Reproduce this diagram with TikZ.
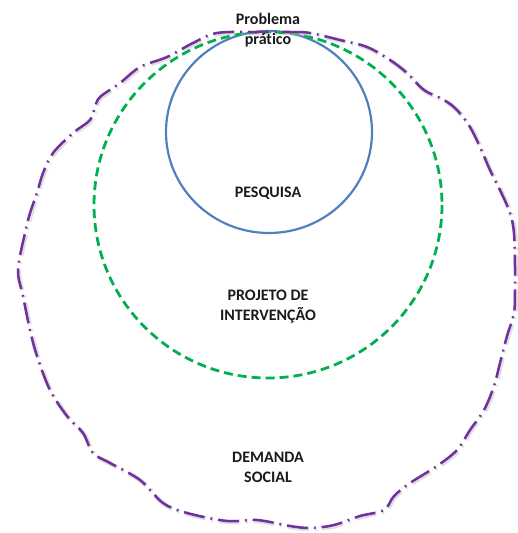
\documentclass[tikz,border=0pt]{standalone}
\usepackage{fontspec}
\setmainfont[Ligatures=NoCommon]{Carlito}
\definecolor{ablue}{HTML}{4F81BD}
\definecolor{agreen}{HTML}{00B050}
\definecolor{apurple}{HTML}{7030A0}
\definecolor{atext}{HTML}{1A1A1A}
\begin{document}
\begin{tikzpicture}[x=1pt,y=-1pt,
  lbl/.style={font=\fontsize{16}{19.5}\selectfont\bfseries, text=atext, align=center, inner sep=0pt},
  bluering/.style={draw=ablue, line width=2.2pt},
  greenring/.style={draw=agreen, line width=2.8pt, dash pattern=on 9pt off 5pt},
  purplering/.style={draw=apurple, line width=2.5pt, dash pattern=on 21pt off 6pt on 1.8pt off 6pt},
  purpleshadow/.style={draw=black!25, line width=4.5pt, opacity=0.5, dash pattern=on 21pt off 6pt on 1.8pt off 6pt}]
\useasboundingbox (0,0) rectangle (517,533);
% blue circle
\draw[bluering] (269,132) ellipse [x radius=103, y radius=101];
% green dashed ellipse
\draw[greenring] (268,205) ellipse [x radius=174, y radius=173];
% purple wobbly outline
\def\purplepath{plot[smooth cycle, tension=0.55] coordinates {
 (257,32) (290,32) (310,33) (340,40) (367,47) (390,60) (407,73) (424,90)
 (444,100) (457,110) (470,127) (480,147) (490,170) (500,190) (510,213)
 (514,233) (515,266) (515,290) (514,313) (507,336) (500,363) (494,386)
 (484,410) (470,430) (457,450) (437,466) (410,483) (394,496) (384,510)
 (360,516) (334,525) (310,528) (290,526) (257,520) (227,521) (187,513)
 (163,503) (140,480) (110,463) (93,453) (83,433) (67,416) (50,390)
 (37,356) (30,330) (23,296) (18,270) (25,233) (30,213) (37,193) (43,173)
 (53,153) (73,133) (90,120) (95,107) (100,97) (120,83) (140,67) (167,57)
 (193,43) (217,33)}}
\draw[purpleshadow, xshift=1pt, yshift=-1pt] \purplepath;
\draw[purplering] \purplepath;
% labels
\node[lbl, anchor=base] (prob) at (268,44) {Problema\\prático};
\node[lbl, anchor=base] (pesq) at (268,197) {PESQUISA};
\node[lbl, anchor=base] (proj) at (268,320) {PROJETO DE\\INTERVENÇÃO};
\node[lbl, anchor=base] (dem) at (268,482) {DEMANDA\\SOCIAL};
\end{tikzpicture}
\end{document}
